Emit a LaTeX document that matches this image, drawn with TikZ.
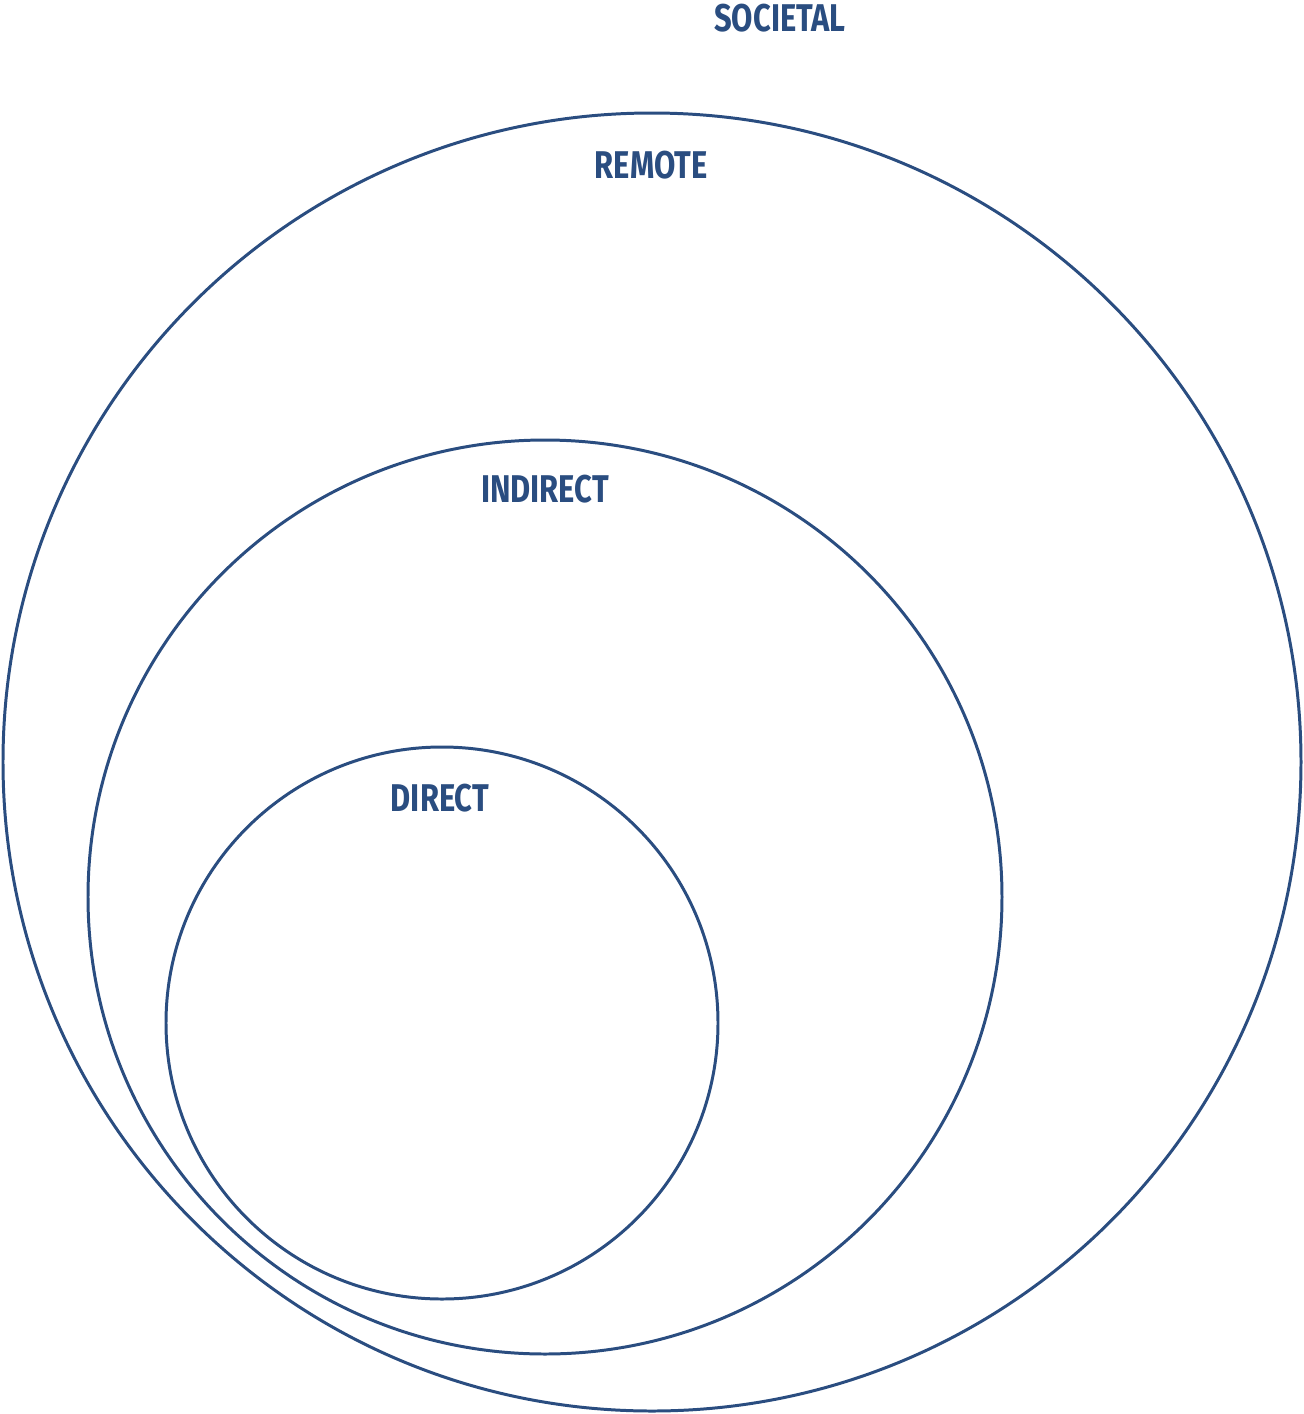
\documentclass[tikz,border=0pt]{standalone}
\usepackage{fontspec}
\setmainfont{Fira Sans}[FakeStretch=0.8]
\usepackage{xcolor}
\usepackage{tikz}

\definecolor{ringblue}{HTML}{2A4D80}

\begin{document}
\begin{tikzpicture}[x=0.02cm,y=-0.02cm]

\tikzset{ring/.style={draw=ringblue, line width=1.7pt},
         lbl/.style={text=ringblue, font=\fontsize{22}{24}\selectfont\bfseries, inner sep=0pt}}

\useasboundingbox (0,0) rectangle (1303,1414);

\draw[ring] (652,762) circle(649); % remote
\draw[ring] (545,897) circle(457); % indirect
\draw[ring] (442,1023) circle(276); % direct

\node[lbl] (societal) at (780,18) {SOCIETAL};
\node[lbl] (remote) at (651,165) {REMOTE};
\node[lbl] (indirect) at (545,489) {INDIRECT};
\node[lbl] (direct) at (440,798) {DIRECT};

\end{tikzpicture}
\end{document}
